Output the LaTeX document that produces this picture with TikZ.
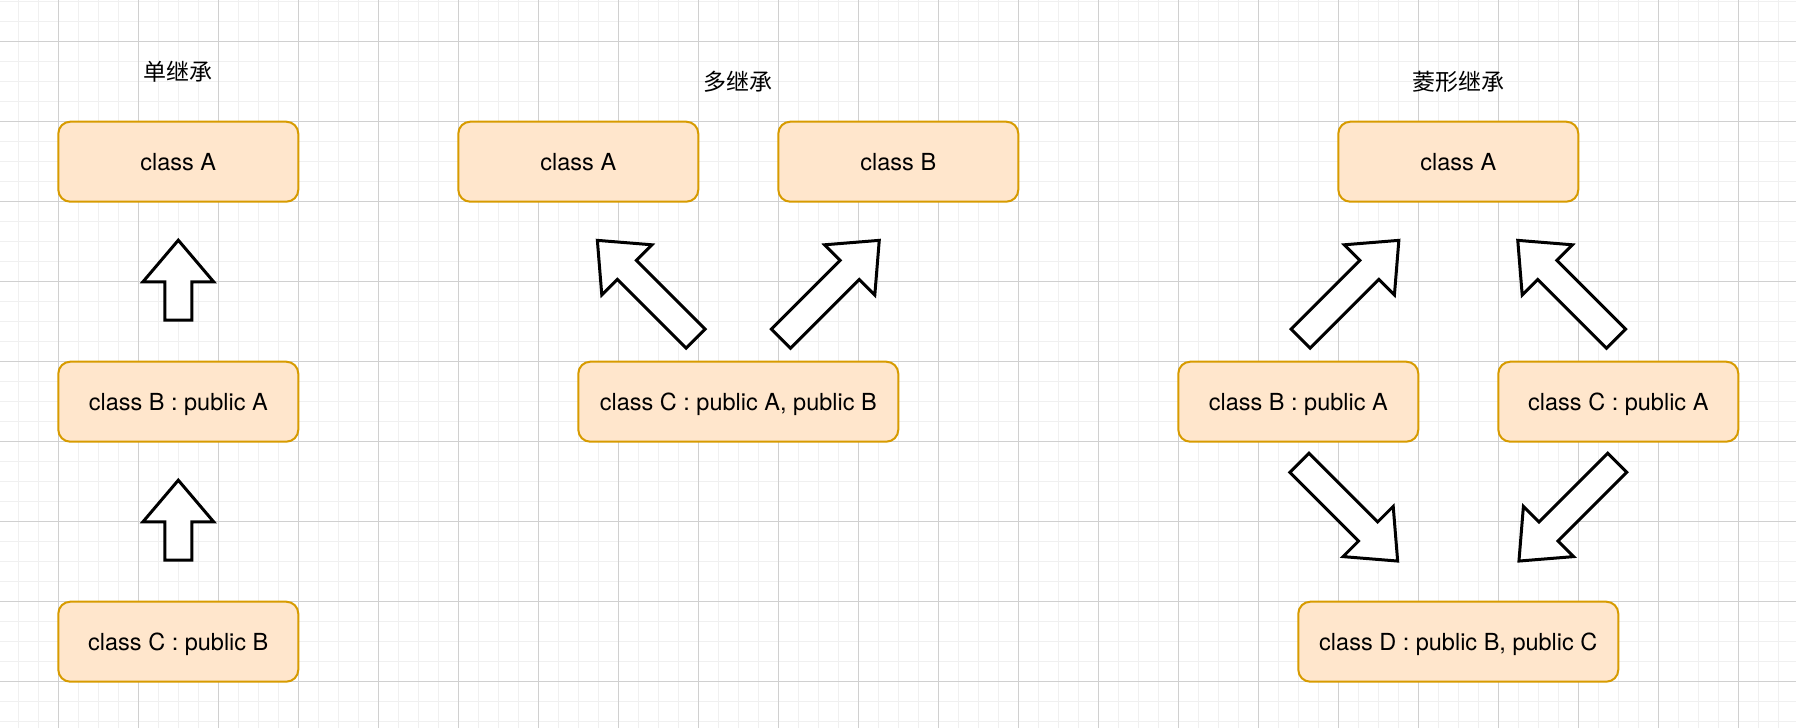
\documentclass[tikz,border=0pt]{standalone}
\usepackage{fontspec}
\setmainfont{TeX Gyre Heros}
\newfontfamily\cjk{Noto Sans CJK SC}
\usetikzlibrary{shapes.arrows}
\definecolor{boxfill}{HTML}{FFE6CC}
\definecolor{boxline}{HTML}{D79B00}
\definecolor{gridminor}{HTML}{F0F0F0}
\definecolor{gridmajor}{HTML}{D0D0D0}

\begin{document}
\begin{tikzpicture}[x=1pt,y=-1pt,
  cls/.style={draw=boxline,fill=boxfill,line width=2pt,rounded corners=12pt,
    minimum width=240pt,minimum height=80pt,text height=17pt,text depth=0pt,
    font=\fontsize{23.5}{28}\selectfont},
  wide/.style={cls,minimum width=320pt},
  title/.style={font=\cjk\fontsize{23}{28}\selectfont},
  inh/.style={single arrow,draw=black,fill=white,line width=3pt,inner xsep=0pt,
    inner ysep=12pt,single arrow head extend=22pt,single arrow tip angle=80.7,
    anchor=tail,minimum height=80pt},
  inhlong/.style={inh,minimum height=139pt}]
  \useasboundingbox (0,0) rectangle (1796,728);

  % grid
  \foreach \i in {0,...,89} \draw[gridminor,line width=1pt] ({18.3+20*\i},0) -- ({18.3+20*\i},728);
  \foreach \i in {0,...,36} \draw[gridminor,line width=1pt] (0,{1.7+20*\i}) -- (1796,{1.7+20*\i});
  \foreach \i in {0,...,21} \draw[gridmajor,line width=1pt] ({58.3+80*\i},0) -- ({58.3+80*\i},728);
  \foreach \i in {0,...,8} \draw[gridmajor,line width=1pt] (0,{41.7+80*\i}) -- (1796,{41.7+80*\i});

  % single inheritance
  \node[title] (sT) at (178.3,72) {单继承};
  \node[cls] (sA) at (178.3,161.7) {class A};
  \node[cls] (sB) at (178.3,401.7) {class B : public A};
  \node[cls] (sC) at (178.3,641.7) {class C : public B};
  \node[inh,rotate=90] (sBA) at (178.3,321.7) {};
  \node[inh,rotate=90] (sCB) at (178.3,561.7) {};

  % multiple inheritance
  \node[title] (mT) at (738.3,82) {多继承};
  \node[cls] (mA) at (578.3,161.7) {class A};
  \node[cls] (mB) at (898.3,161.7) {class B};
  \node[wide] (mC) at (738.3,401.7) {class C : public A, public B};
  \node[inhlong,rotate=135] (mCA) at (696.7,339.7) {};
  \node[inhlong,rotate=45] (mCB) at (779.9,339.7) {};

  % diamond inheritance
  \node[title] (dT) at (1458.3,82) {菱形继承};
  \node[cls] (dA) at (1458.3,161.7) {class A};
  \node[cls] (dB) at (1298.3,401.7) {class B : public A};
  \node[cls] (dC) at (1618.3,401.7) {class C : public A};
  \node[wide] (dD) at (1458.3,641.7) {class D : public B, public C};
  \node[inhlong,rotate=45] (dBA) at (1299.5,339.7) {};
  \node[inhlong,rotate=135] (dCA) at (1617.1,339.7) {};
  \node[inhlong,rotate=-45] (dDB) at (1298.3,461.7) {};
  \node[inhlong,rotate=225] (dDC) at (1618.3,461.7) {};
\end{tikzpicture}
\end{document}
